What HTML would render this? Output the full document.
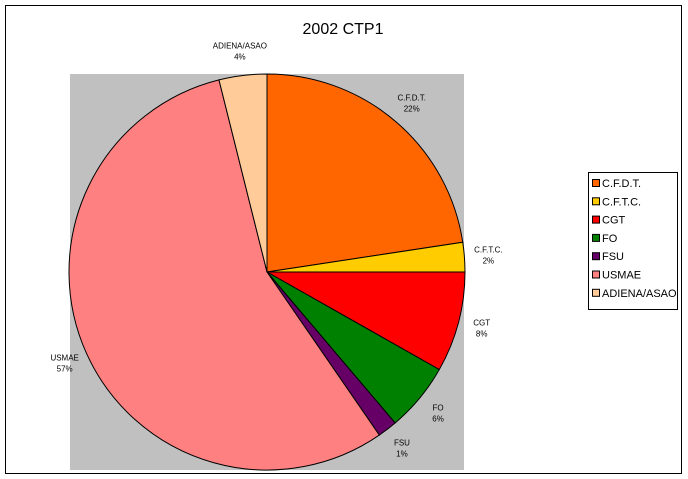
<!DOCTYPE html>
<html><head><meta charset="utf-8"><style>
body{margin:0;background:#fff;font-family:"Liberation Sans",sans-serif}
svg{display:block}
</style></head><body>
<svg id="c" width="688" height="479">
<rect x="5.5" y="5.5" width="676" height="468" fill="#fff" stroke="#000"/>
<text x="343" y="34" font-size="16" text-anchor="middle">2002 CTP1</text>
<rect x="70" y="74" width="394" height="396" fill="#c0c0c0"/>
<g id="slices"></g>
<g id="labels"></g>
<rect x="588.5" y="172.5" width="89" height="137" fill="#fff" stroke="#000"/>
<g id="legend"></g>
</svg>
<script>
const categories=["C.F.D.T.","C.F.T.C.","CGT","FO","FSU","USMAE","ADIENA/ASAO"];
const values=[22.6,2.4,8.2,5.6,1.6,55.7,3.9];
const valueLabels=["22%","2%","8%","6%","1%","57%","4%"];
const colors=["#ff6600","#ffcc00","#ff0000","#008000","#660066","#ff8080","#ffcc99"];
const cx=267,cy=272,R=198,NS="http://www.w3.org/2000/svg";
const total=values.reduce((a,b)=>a+b,0);
function pt(frac,r){const a=frac*2*Math.PI;return[cx+r*Math.sin(a),cy-r*Math.cos(a)];}
let acc=0;
const sg=document.getElementById('slices'),lg=document.getElementById('labels'),leg=document.getElementById('legend');
values.forEach((v,i)=>{
  const f0=acc/total,f1=(acc+v)/total;acc+=v;
  const p0=pt(f0,R),p1=pt(f1,R),large=(f1-f0)>0.5?1:0;
  const p=document.createElementNS(NS,'path');
  p.setAttribute('d',`M${cx},${cy}L${p0[0]},${p0[1]}A${R},${R} 0 ${large} 1 ${p1[0]},${p1[1]}Z`);
  p.setAttribute('fill',colors[i]);p.setAttribute('stroke','#000');p.setAttribute('stroke-width','1');
  
  
  sg.appendChild(p);
  const m=pt((f0+f1)/2,222);
  const t=document.createElementNS(NS,'text');
  t.setAttribute('x',m[0]);t.setAttribute('y',m[1]-3);
  t.setAttribute('font-size','8');t.setAttribute('text-anchor','middle');
  
  
  const s1=document.createElementNS(NS,'tspan');s1.setAttribute('x',m[0]);s1.textContent=categories[i];
  const s2=document.createElementNS(NS,'tspan');s2.setAttribute('x',m[0]);s2.setAttribute('dy','11');s2.textContent=valueLabels[i];
  t.appendChild(s1);t.appendChild(s2);lg.appendChild(t);
  const y=183+i*18.3;
  const r=document.createElementNS(NS,'rect');
  r.setAttribute('x',592.5);r.setAttribute('y',y-3.5);r.setAttribute('width',7);r.setAttribute('height',7);
  r.setAttribute('fill',colors[i]);r.setAttribute('stroke','#000');
  
  
  leg.appendChild(r);
  const lt=document.createElementNS(NS,'text');
  lt.setAttribute('x',602);lt.setAttribute('y',y+4);lt.setAttribute('font-size','11');
  lt.textContent=categories[i];
  
  
  leg.appendChild(lt);
});
</script>
</body></html>
